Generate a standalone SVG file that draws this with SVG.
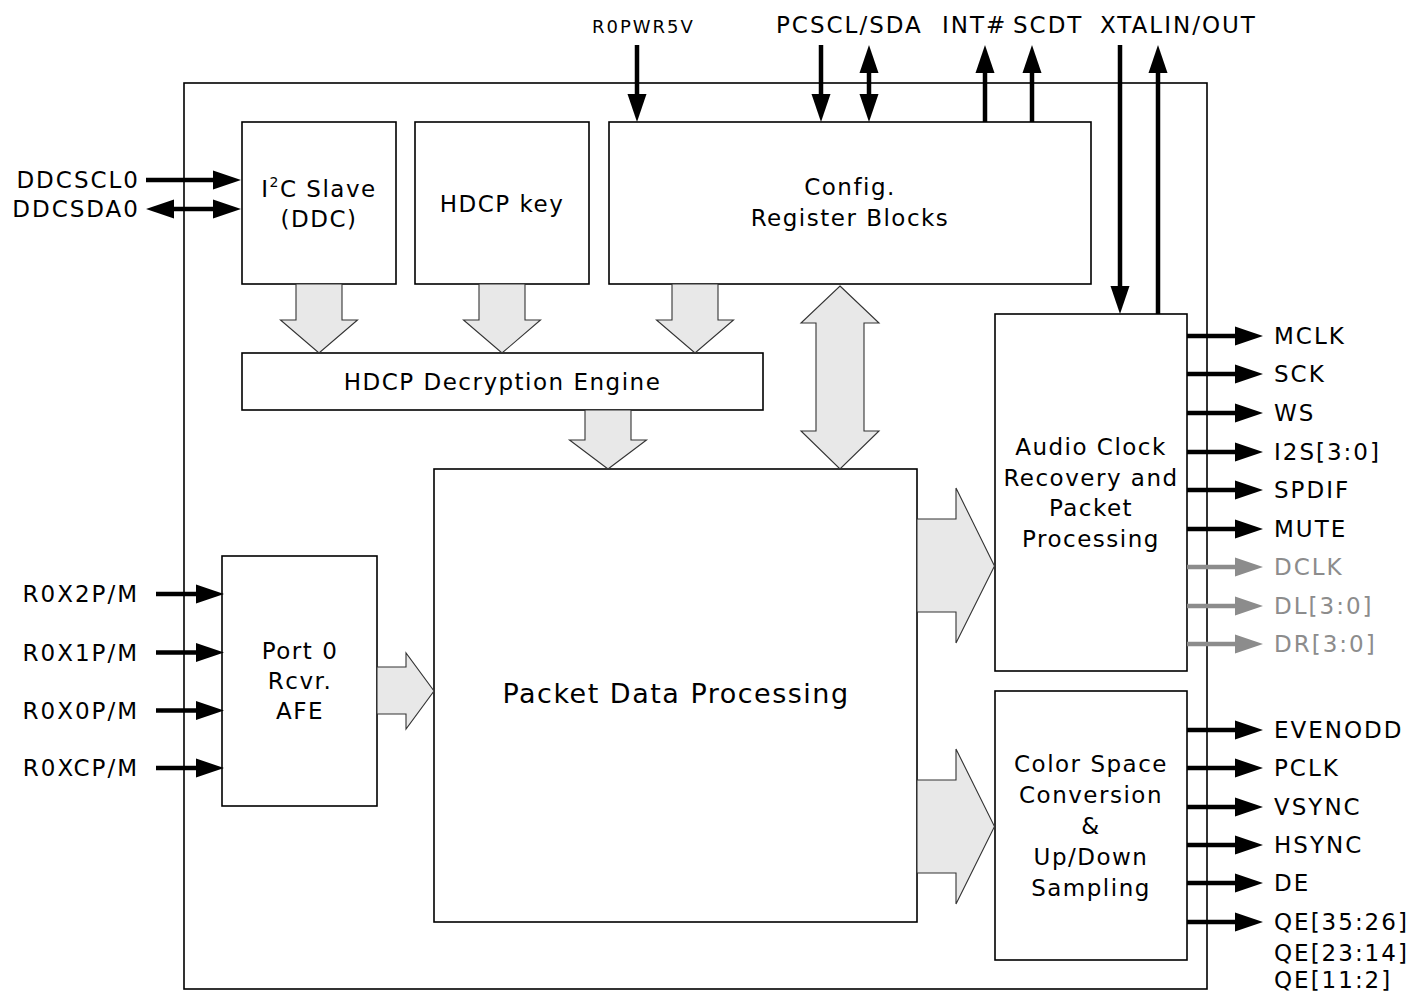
<svg xmlns="http://www.w3.org/2000/svg" width="1424" height="992" viewBox="0 0 1424 992">
<style>
  .box{fill:#fff;stroke:#000;stroke-width:1.6}
  .chip{fill:none;stroke:#000;stroke-width:1.6}
  .t{font-family:"DejaVu Sans",Verdana,sans-serif;font-size:23px;fill:#000;letter-spacing:1.5px;text-anchor:middle}
  .big{font-size:27px}
  .pin{font-family:"DejaVu Sans",Verdana,sans-serif;font-size:23px;fill:#000;letter-spacing:2px}
  .small{font-size:18px}
  .gray{fill:#8c8c8c}
  .w{fill:none;stroke:#000;stroke-width:4.5;marker-end:url(#ah)}
  .wb{fill:none;stroke:#000;stroke-width:4.5;marker-end:url(#ah);marker-start:url(#ah)}
  .wg{fill:none;stroke:#8c8c8c;stroke-width:4.5;marker-end:url(#ahg)}
  .blk{fill:#e8e8e8;stroke:#333;stroke-width:1.1}
</style>
<defs>
  <marker id="ah" markerUnits="userSpaceOnUse" markerWidth="28" markerHeight="20" refX="0" refY="9.5" orient="auto-start-reverse" overflow="visible">
    <path d="M0,0 L28,9.5 L0,19 z" fill="#000"/>
  </marker>
  <marker id="ahg" markerUnits="userSpaceOnUse" markerWidth="28" markerHeight="20" refX="0" refY="9.5" orient="auto" overflow="visible">
    <path d="M0,0 L28,9.5 L0,19 z" fill="#8c8c8c"/>
  </marker>
</defs>

<rect id="chip" class="chip" x="184" y="83" width="1023" height="906"/>

<g id="i2c">
  <rect class="box" x="242" y="122" width="154" height="162"/>
  <text class="t" x="319" y="197">I<tspan font-size="14" dy="-10">2</tspan><tspan dy="10">C Slave</tspan></text>
  <text class="t" x="319" y="227">(DDC)</text>
</g>
<g id="hdcpkey">
  <rect class="box" x="415" y="122" width="174" height="162"/>
  <text class="t" x="502" y="212">HDCP key</text>
</g>
<g id="config">
  <rect class="box" x="609" y="122" width="482" height="162"/>
  <text class="t" x="850" y="195">Config.</text>
  <text class="t" x="850" y="226">Register Blocks</text>
</g>
<g id="decrypt">
  <rect class="box" x="242" y="353" width="521" height="57"/>
  <text class="t" x="502.5" y="390">HDCP Decryption Engine</text>
</g>
<g id="packet">
  <rect class="box" x="434" y="469" width="483" height="453"/>
  <text class="t big" x="676" y="703">Packet Data Processing</text>
</g>
<g id="port0">
  <rect class="box" x="222" y="556" width="155" height="250"/>
  <text class="t" x="300" y="659">Port 0</text>
  <text class="t" x="300" y="689">Rcvr.</text>
  <text class="t" x="300" y="719">AFE</text>
</g>
<g id="audio">
  <rect class="box" x="995" y="314" width="192" height="357"/>
  <text class="t" x="1091" y="455">Audio Clock</text>
  <text class="t" x="1091" y="486">Recovery and</text>
  <text class="t" x="1091" y="516">Packet</text>
  <text class="t" x="1091" y="547">Processing</text>
</g>
<g id="color">
  <rect class="box" x="995" y="691" width="192" height="269"/>
  <text class="t" x="1091" y="772">Color Space</text>
  <text class="t" x="1091" y="803">Conversion</text>
  <text class="t" x="1091" y="834">&amp;</text>
  <text class="t" x="1091" y="865">Up/Down</text>
  <text class="t" x="1091" y="896">Sampling</text>
</g>

<g id="connectors">
  <!-- block arrows -->
  <polygon class="blk" points="296,284 342,284 342,320 357.5,320 319,353 280.5,320 296,320"/>
  <polygon class="blk" points="479,284 525,284 525,320 540.5,320 502,353 463.5,320 479,320"/>
  <polygon class="blk" points="672,284 718,284 718,320 733.5,320 695,353 656.5,320 672,320"/>
  <polygon class="blk" points="585,410 631,410 631,440 646.5,440 608,469 569.5,440 585,440"/>
  <polygon class="blk" points="840,286 879,323 864,323 864,431 879,431 840,469 801,431 816,431 816,323 801,323"/>
  <polygon class="blk" points="377,667 406,667 406,653 434,691 406,729 406,714 377,714"/>
  <polygon class="blk" points="917,519 956,519 956,488 994.5,566 956,643 956,612 917,612"/>
  <polygon class="blk" points="917,780 956,780 956,749 994.5,826.5 956,904 956,873 917,873"/>

  <!-- left pins -->
  <line class="w" x1="146" y1="180" x2="213" y2="180"/>
  <line class="wb" x1="174" y1="209" x2="213" y2="209"/>
  <line class="w" x1="156" y1="594" x2="196" y2="594"/>
  <line class="w" x1="156" y1="652.5" x2="196" y2="652.5"/>
  <line class="w" x1="156" y1="710.5" x2="196" y2="710.5"/>
  <line class="w" x1="156" y1="768" x2="196" y2="768"/>

  <!-- top pins -->
  <line class="w" x1="637" y1="45" x2="637" y2="94"/>
  <line class="w" x1="821" y1="45" x2="821" y2="94"/>
  <line class="wb" x1="869" y1="73" x2="869" y2="94"/>
  <line class="w" x1="985" y1="122" x2="985" y2="73"/>
  <line class="w" x1="1032" y1="122" x2="1032" y2="73"/>
  <line class="w" x1="1120" y1="45" x2="1120" y2="286"/>
  <line class="w" x1="1158" y1="314" x2="1158" y2="73"/>

  <!-- right pins -->
  <line class="w" x1="1187" y1="336" x2="1235" y2="336"/>
  <line class="w" x1="1187" y1="374" x2="1235" y2="374"/>
  <line class="w" x1="1187" y1="413" x2="1235" y2="413"/>
  <line class="w" x1="1187" y1="452" x2="1235" y2="452"/>
  <line class="w" x1="1187" y1="490" x2="1235" y2="490"/>
  <line class="w" x1="1187" y1="529" x2="1235" y2="529"/>
  <line class="wg" x1="1187" y1="567" x2="1235" y2="567"/>
  <line class="wg" x1="1187" y1="606" x2="1235" y2="606"/>
  <line class="wg" x1="1187" y1="644" x2="1235" y2="644"/>
  <line class="w" x1="1187" y1="730" x2="1235" y2="730"/>
  <line class="w" x1="1187" y1="768" x2="1235" y2="768"/>
  <line class="w" x1="1187" y1="807" x2="1235" y2="807"/>
  <line class="w" x1="1187" y1="845" x2="1235" y2="845"/>
  <line class="w" x1="1187" y1="883" x2="1235" y2="883"/>
  <line class="w" x1="1187" y1="922" x2="1235" y2="922"/>
</g>

<g id="pin-labels">
  <text class="pin" x="140" y="188" text-anchor="end">DDCSCL0</text>
  <text class="pin" x="140" y="217" text-anchor="end">DDCSDA0</text>
  <text class="pin" x="139" y="602" text-anchor="end">R0X2P/M</text>
  <text class="pin" x="139" y="660.5" text-anchor="end">R0X1P/M</text>
  <text class="pin" x="139" y="718.5" text-anchor="end">R0X0P/M</text>
  <text class="pin" x="139" y="776" text-anchor="end">R0XCP/M</text>

  <text class="pin small" x="592" y="33">R0PWR5V</text>
  <text class="pin" x="776" y="33">PCSCL/SDA</text>
  <text class="pin" x="942" y="33">INT#</text>
  <text class="pin" x="1013" y="33">SCDT</text>
  <text class="pin" x="1100" y="33">XTALIN/OUT</text>

  <text class="pin" x="1274" y="344">MCLK</text>
  <text class="pin" x="1274" y="382">SCK</text>
  <text class="pin" x="1274" y="421">WS</text>
  <text class="pin" x="1274" y="460">I2S[3:0]</text>
  <text class="pin" x="1274" y="498">SPDIF</text>
  <text class="pin" x="1274" y="537">MUTE</text>
  <text class="pin gray" x="1274" y="575">DCLK</text>
  <text class="pin gray" x="1274" y="614">DL[3:0]</text>
  <text class="pin gray" x="1274" y="652">DR[3:0]</text>
  <text class="pin" x="1274" y="738">EVENODD</text>
  <text class="pin" x="1274" y="776">PCLK</text>
  <text class="pin" x="1274" y="815">VSYNC</text>
  <text class="pin" x="1274" y="853">HSYNC</text>
  <text class="pin" x="1274" y="891">DE</text>
  <text class="pin" x="1274" y="930">QE[35:26]</text>
  <text class="pin" x="1274" y="961">QE[23:14]</text>
  <text class="pin" x="1274" y="988">QE[11:2]</text>
</g>
</svg>
